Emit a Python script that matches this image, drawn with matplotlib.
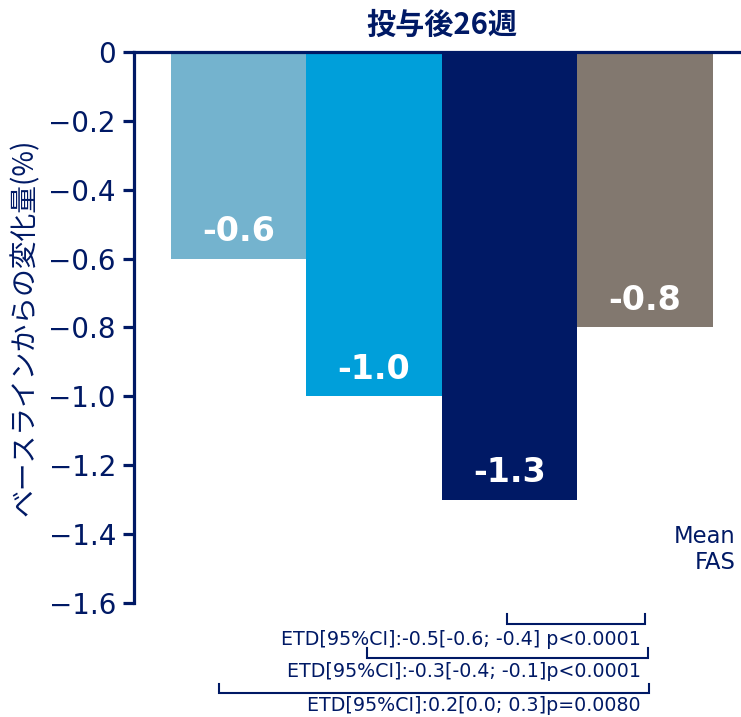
import matplotlib
matplotlib.use("Agg")
import matplotlib.pyplot as plt

navy = "#001965"

# 26週時点のベースラインからの変化量
valores = [-0.6, -1.0, -1.3, -0.8]
cores = ["#74B3CE", "#009FDA", "#001965", "#82786F"]
rotulos = ["-0.6", "-1.0", "-1.3", "-0.8"]
yticks = [0, -0.2, -0.4, -0.6, -0.8, -1.0, -1.2, -1.4, -1.6]

# ブラケット: (左端, 右端, 上端, 下端) と ETD テキスト
colchetes = [
    (1.98, 3.0, -1.632, -1.661),
    (0.95, 3.02, -1.731, -1.760),
    (-0.14, 3.03, -1.835, -1.861),
]
etd_textos = [
    "ETD[95%CI]:-0.5[-0.6; -0.4] p<0.0001",
    "ETD[95%CI]:-0.3[-0.4; -0.1]p<0.0001",
    "ETD[95%CI]:0.2[0.0; 0.3]p=0.0080",
]
etd_y = [-1.707, -1.800, -1.899]

fig = plt.figure(figsize=(7.41, 7.17), dpi=100)
ax = fig.add_axes([0.1808, 0.159, 0.8192, 0.7685])

x = list(range(len(valores)))
ax.bar(x, valores, width=1.0, color=cores, zorder=1)

for xi, v, r in zip(x, valores, rotulos):
    ax.text(xi, v + 0.078, r, ha="center", va="center", color="white",
            fontsize=24, fontweight="bold")

ax.set_xlim(-0.77, 3.71)
ax.set_ylim(-1.6, 0)
ax.set_yticks(yticks)
ax.set_yticklabels(["0" if t == 0 else f"{t:.1f}".replace("-", "\u2212") for t in yticks])
ax.set_xticks([])

for s in ["right", "bottom"]:
    ax.spines[s].set_visible(False)
for s in ["left", "top"]:
    ax.spines[s].set_color(navy)
    ax.spines[s].set_linewidth(2.3)
    ax.spines[s].set_zorder(3)
ax.tick_params(axis="y", colors=navy, labelsize=20, length=8, width=2.3, pad=5)

ax.set_ylabel("ベースラインからの変化量(%)", color=navy, fontsize=20,
              family=["Noto Sans CJK JP", "DejaVu Sans"], labelpad=6)

ax.text(1.5, 0.08, "投与後26週", ha="center", va="center", color=navy,
        fontsize=21, fontweight="bold", family=["Noto Sans CJK JP", "DejaVu Sans"],
        transform=ax.transData, clip_on=False)

ax.text(3.67, -1.445, "Mean\nFAS", ha="right", va="center", color=navy,
        fontsize=16.3, linespacing=1.2, clip_on=False)

for (x0, x1, ytop, ybot) in colchetes:
    ax.plot([x0, x0, x1, x1], [ytop, ybot, ybot, ytop], color=navy, lw=1.5,
            clip_on=False, solid_joinstyle="miter")
for t, yy in zip(etd_textos, etd_y):
    ax.text(2.97, yy, t, ha="right", va="center", color=navy, fontsize=13.7,
            clip_on=False)

fig.savefig("out.png", dpi=100)
